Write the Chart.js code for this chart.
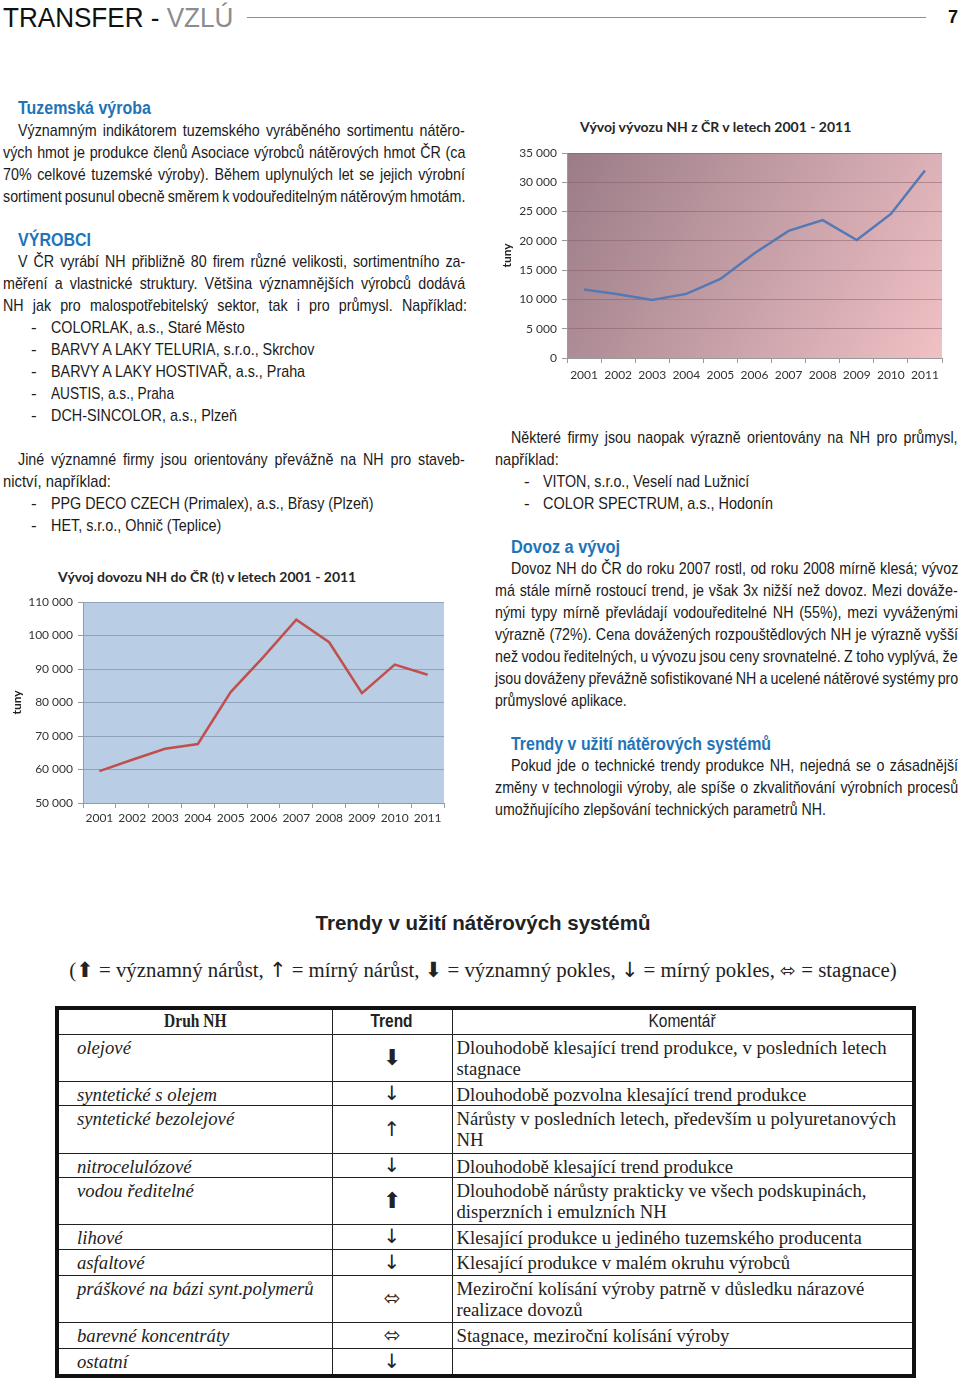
<!DOCTYPE html>
<html>
<head>
<meta charset="utf-8">
<script src="https://cdn.jsdelivr.net/npm/chart.js@4.4.1/dist/chart.umd.min.js"></script>
<style>
body{margin:0;width:960px;height:1384px;position:relative;background:#fff;overflow:hidden;
  font-family:"Liberation Sans",Arial,sans-serif;color:#1b1b1b}
.l{position:absolute;font-size:17px;line-height:22px;white-space:pre;transform-origin:0 0}
.h{color:#1f74b8;font-weight:bold;font-size:18px}
.ctitle{position:absolute;font-family:Lato,sans-serif;font-weight:bold;font-size:14px;color:#262626;white-space:nowrap}
canvas{position:absolute}
#tab{position:absolute;left:55px;top:1006px;width:857px;border-collapse:collapse;border:4px solid #111;
  font-family:"Liberation Serif",serif;font-size:18.7px;color:#222;table-layout:fixed}
#tab td,#tab th{border:1px solid #222;padding:0 0 0 4px;vertical-align:top;line-height:21px;white-space:nowrap}
#tab th{font-weight:normal;text-align:center;vertical-align:middle;padding:0;font-size:18px;
  font-family:"Liberation Sans",Arial,sans-serif}
#tab th span{display:inline-block;transform:scaleX(0.86)}
#tab td.d{font-style:italic;padding-left:18px;padding-top:2px}
#tab td.t{text-align:center;vertical-align:middle;font-family:"DejaVu Sans",sans-serif;font-size:20px;padding:0}
#tab td.c{padding-top:2px}
.ar{font-family:"DejaVu Sans",sans-serif}
</style>
</head>
<body>

<div id="text"></div>
<div style="position:absolute;left:247px;top:17px;width:679px;height:1px;background:#8e8e8e"></div>
<div class="l" style="left:948px;top:6px;font-size:18px;font-weight:bold;color:#111">7</div>

<div class="ctitle" style="left:580px;top:118px">Vývoj vývozu NH z ČR v letech 2001 - 2011</div>
<canvas id="exportChart" width="460" height="282" style="left:497px;top:110px"></canvas>

<div class="ctitle" style="left:58px;top:568px">Vývoj dovozu NH do ČR (t) v letech 2001 - 2011</div>
<canvas id="importChart" width="450" height="270" style="left:5px;top:560px"></canvas>

<div class="l" style="left:0;width:966px;top:911px;text-align:center;font-weight:bold;font-size:20.5px;line-height:24px;color:#222">Trendy v užití nátěrových systémů</div>
<div class="l" style="left:0;width:966px;top:957px;text-align:center;font-family:'Liberation Serif',serif;font-size:20.8px;line-height:26px;color:#222">(<span class="ar" style="font-size:21px">⬆</span> = významný nárůst, <span class="ar">↑</span> = mírný nárůst, <span class="ar" style="font-size:21px">⬇</span> = významný pokles, <span class="ar">↓</span> = mírný pokles, <span class="ar" style="font-size:19px">⬄</span> = stagnace)</div>

<table id="tab">
<colgroup><col style="width:275px"><col style="width:120px"><col style="width:462px"></colgroup>
<tr style="height:26px"><th style="font-family:'Liberation Serif',serif;font-weight:bold"><span>Druh NH</span></th><th style="font-weight:bold"><span>Trend</span></th><th><span>Komentář</span></th></tr>
<tr style="height:47px"><td class="d">olejové</td><td class="t" style="font-size:22px">⬇</td><td class="c">Dlouhodobě klesající trend produkce, v posledních letech<br>stagnace</td></tr>
<tr style="height:24px"><td class="d">syntetické s olejem</td><td class="t">↓</td><td class="c">Dlouhodobě pozvolna klesající trend produkce</td></tr>
<tr style="height:48px"><td class="d">syntetické bezolejové</td><td class="t">↑</td><td class="c">Nárůsty v posledních letech, především u polyuretanových<br>NH</td></tr>
<tr style="height:24px"><td class="d">nitrocelulózové</td><td class="t">↓</td><td class="c">Dlouhodobě klesající trend produkce</td></tr>
<tr style="height:47px"><td class="d">vodou ředitelné</td><td class="t" style="font-size:22px">⬆</td><td class="c">Dlouhodobě nárůsty prakticky ve všech podskupinách,<br>disperzních i emulzních NH</td></tr>
<tr style="height:25px"><td class="d">lihové</td><td class="t">↓</td><td class="c">Klesající produkce u jediného tuzemského producenta</td></tr>
<tr style="height:26px"><td class="d">asfaltové</td><td class="t">↓</td><td class="c">Klesající produkce v malém okruhu výrobců</td></tr>
<tr style="height:47px"><td class="d">práškové na bázi synt.polymerů</td><td class="t" style="font-size:20px">⬄</td><td class="c">Meziroční kolísání výroby patrně v důsledku nárazové<br>realizace dovozů</td></tr>
<tr style="height:26px"><td class="d">barevné koncentráty</td><td class="t" style="font-size:20px">⬄</td><td class="c">Stagnace, meziroční kolísání výroby</td></tr>
<tr style="height:28px"><td class="d">ostatní</td><td class="t">↓</td><td class="c"></td></tr>
</table>

<script>
// chart data
var years = ['2001', '2002', '2003', '2004', '2005', '2006', '2007', '2008', '2009', '2010', '2011'];
var exportTons = [11700, 10900, 9900, 10950, 13500, 17900, 21700, 23550, 20150, 24600, 32000];
var importTons = [59500, 62900, 66200, 67600, 83100, 93600, 104700, 98000, 82800, 91300, 88300];
var exportAxis = [0, 35000, 5000];
var importAxis = [50000, 110000, 10000];

// page text: [left, centre y, right edge, text, justify, class]
var lines = [
  [3, 18, 233, 'TRANSFER - ', false, 'top'],
  [18, 108, 151, 'Tuzemská výroba', false, 'h'],
  [18, 131, 465, 'Významným indikátorem tuzemského vyráběného sortimentu nátěro-', true],
  [3, 153, 465, 'vých hmot je produkce členů Asociace výrobců nátěrových hmot ČR (ca', true],
  [3, 175, 465, '70% celkové tuzemské výroby). Během uplynulých let se jejich výrobní', true],
  [3, 197, 465, 'sortiment posunul obecně směrem k vodouředitelným nátěrovým hmotám.', true],
  [18, 240, 91, 'VÝROBCI', false, 'h'],
  [18, 262, 465, 'V ČR vyrábí NH přibližně 80 firem různé velikosti, sortimentního za-', true],
  [3, 284, 465, 'měření a vlastnické struktury. Většina významnějších výrobců dodává', true],
  [3, 306, 467, 'NH jak pro malospotřebitelský sektor, tak i pro průmysl. Například:', true],
  [31, 328, 0, '-'], [51, 328, 245, 'COLORLAK, a.s., Staré Město'],
  [31, 350, 0, '-'], [51, 350, 314, 'BARVY A LAKY TELURIA, s.r.o., Skrchov'],
  [31, 372, 0, '-'], [51, 372, 305, 'BARVY A LAKY HOSTIVAŘ, a.s., Praha'],
  [31, 394, 0, '-'], [51, 394, 174, 'AUSTIS, a.s., Praha'],
  [31, 416, 0, '-'], [51, 416, 237, 'DCH-SINCOLOR, a.s., Plzeň'],
  [18, 460, 465, 'Jiné významné firmy jsou orientovány převážně na NH pro staveb-', true],
  [3, 482, 111, 'nictví, například:'],
  [31, 504, 0, '-'], [51, 504, 374, 'PPG DECO CZECH (Primalex), a.s., Břasy (Plzeň)'],
  [31, 526, 0, '-'], [51, 526, 221, 'HET, s.r.o., Ohnič (Teplice)'],

  [511, 438, 958, 'Některé firmy jsou naopak výrazně orientovány na NH pro průmysl,', true],
  [495, 460, 559, 'například:'],
  [524, 482, 0, '-'], [543, 482, 749, 'VITON, s.r.o., Veselí nad Lužnicí'],
  [524, 504, 0, '-'], [543, 504, 773, 'COLOR SPECTRUM, a.s., Hodonín'],
  [511, 547, 620, 'Dovoz a vývoj', false, 'h'],
  [511, 569, 958, 'Dovoz NH do ČR do roku 2007 rostl, od roku 2008 mírně klesá; vývoz', true],
  [495, 591, 958, 'má stále mírně rostoucí trend, je však 3x nižší než dovoz. Mezi dováže-', true],
  [495, 613, 958, 'nými typy mírně převládají vodouředitelné NH (55%), mezi vyváženými', true],
  [495, 635, 958, 'výrazně (72%). Cena dovážených rozpouštědlových NH je výrazně vyšší', true],
  [495, 657, 958, 'než vodou ředitelných, u vývozu jsou ceny srovnatelné. Z toho vyplývá, že', true],
  [495, 679, 958, 'jsou dováženy převážně sofistikované NH a ucelené nátěrové systémy pro', true],
  [495, 701, 627, 'průmyslové aplikace.'],
  [511, 744, 771, 'Trendy v užití nátěrových systémů', false, 'h'],
  [511, 766, 958, 'Pokud jde o technické trendy produkce NH, nejedná se o zásadnější', true],
  [495, 788, 958, 'změny v technologii výroby, ale spíše o zkvalitňování výrobních procesů', true],
  [495, 810, 826, 'umožňujícího zlepšování technických parametrů NH.']
];

var holder = document.getElementById('text');
lines.forEach(function(ln) {
  var d = document.createElement('div');
  d.className = 'l' + (ln[5] ? ' ' + ln[5] : '');
  d.style.left = ln[0] + 'px';
  d.style.top = (ln[1] - 11) + 'px';
  d.textContent = ln[3];
  if (ln[5] === 'top') {
    d.style.fontSize = '28px';
    d.style.lineHeight = '30px';
    d.style.top = (ln[1] - 15) + 'px';
    d.style.color = '#111';
    var s = document.createElement('span');
    s.style.color = '#8a8c90';
    s.textContent = 'VZLÚ';
    d.appendChild(s);
  }
  holder.appendChild(d);
  if (!ln[2]) return;
  var target = ln[2] - ln[0];
  var w = d.offsetWidth;
  var f = target / w;
  if (ln[4]) {
    // justified: squeeze like a narrow face, then spread the spaces
    var n = (ln[3].match(/ /g) || []).length;
    f = 0.84;
    var ws = (target / f - w) / n;
    if (ws < -1) { ws = -1; f = target / (w + n * ws); }
    d.style.wordSpacing = ws + 'px';
  }
  d.style.transform = 'scaleX(' + f + ')';
});

function fmt(v) {
  return String(v).replace(/\B(?=(\d{3})+(?!\d))/g, ' ');
}

var plotBg = {
  id: 'plotBg',
  beforeDraw: function(chart, args, opts) {
    var ctx = chart.ctx, a = chart.chartArea;
    var fill = opts.color;
    if (opts.from) {
      fill = ctx.createLinearGradient(a.left, a.top, a.right, a.bottom);
      fill.addColorStop(0, opts.from);
      fill.addColorStop(1, opts.to);
    }
    ctx.save();
    ctx.fillStyle = fill;
    ctx.fillRect(a.left, a.top, a.width, a.height);
    ctx.restore();
  }
};

function makeChart(id, data, axis, color, bg, gridColor, pad, yWidth, xHeight, xPad) {
  var ctx = document.getElementById(id).getContext('2d');
  return new Chart(ctx, {
    type: 'line',
    data: {
      labels: years,
      datasets: [{
        data: data,
        borderColor: color,
        borderWidth: 2.5,
        pointRadius: 0,
        tension: 0,
        fill: false
      }]
    },
    options: {
      responsive: false,
      animation: false,
      layout: { padding: pad },
      plugins: { legend: { display: false }, tooltip: { enabled: false }, plotBg: bg },
      scales: {
        x: {
          offset: true,
          grid: { offset: true, drawOnChartArea: false, tickLength: 5, color: '#9a9a9a' },
          border: { color: '#9a9a9a' },
          ticks: { color: '#333', padding: xPad, maxRotation: 0, autoSkip: false, font: { family: 'Lato', size: 12 } },
          afterFit: function(s) { s.height = xHeight; }
        },
        y: {
          min: axis[0], max: axis[1],
          grid: { color: gridColor, tickColor: '#9a9a9a', tickLength: 5, lineWidth: 1 },
          border: { color: '#9a9a9a' },
          ticks: { stepSize: axis[2], color: '#333', padding: 5, font: { family: 'Lato', size: 12 }, callback: fmt },
          title: { display: true, text: 'tuny', color: '#222', padding: 0, font: { family: 'Lato', size: 12, weight: 'bold' } },
          afterFit: function(s) { s.width = yWidth; }
        }
      }
    },
    plugins: [plotBg]
  });
}

makeChart('exportChart', exportTons, exportAxis, '#5479b4',
  { from: '#9a7c87', to: '#f0c1c5' }, 'rgba(130,85,95,0.45)',
  { left: 3, right: 15, top: 43, bottom: 0 }, 67, 34, 5);

makeChart('importChart', importTons, importAxis, '#c0504d',
  { color: '#b9cde5' }, '#8fa3bc',
  { left: 5, right: 11, top: 42, bottom: 0 }, 73, 27, 3);
</script>
</body>
</html>
